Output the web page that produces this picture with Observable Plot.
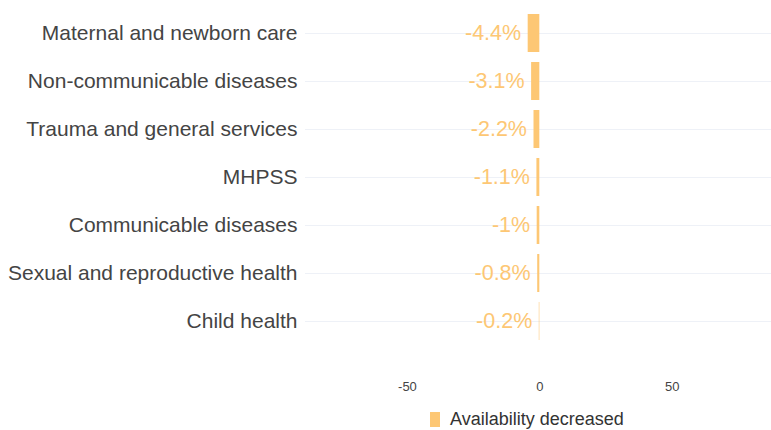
<!DOCTYPE html>
<html>
<head>
<meta charset="utf-8">
<script src="https://cdn.jsdelivr.net/npm/d3@7"></script>
<script src="https://cdn.jsdelivr.net/npm/@observablehq/plot@0.6"></script>
<style>
  html, body { margin: 0; padding: 0; background: #fff; }
  body { width: 771px; height: 430px; overflow: hidden; font-family: "Liberation Sans", Arial, sans-serif; }
  #legend { display: flex; align-items: center; margin-left: 430px; margin-top: 9px; font-size: 18px; line-height: 20px; color: #333; }
  #legend .sw { width: 10px; height: 15px; background: #fdc774; margin-right: 10px; }
</style>
</head>
<body>
<div id="chart"></div>
<div id="legend"><span class="sw"></span><span>Availability decreased</span></div>
<script>
const categories = [
  "Maternal and newborn care",
  "Non-communicable diseases",
  "Trauma and general services",
  "MHPSS",
  "Communicable diseases",
  "Sexual and reproductive health",
  "Child health"
];
const values = [-4.4, -3.1, -2.2, -1.1, -1, -0.8, -0.2];
const xTicks = [-50, 0, 50];
const seriesName = "Availability decreased";

const data = categories.map((c, i) => ({category: c, value: values[i]}));
const barColor = "#fdc774";

const chart = Plot.plot({
  width: 771,
  height: 400,
  marginLeft: 305,
  marginRight: 0,
  marginTop: 3,
  marginBottom: 48,
  style: {fontFamily: "Liberation Sans, Arial, sans-serif", background: "#fff"},
  x: {domain: [-88.5, 87.5], ticks: xTicks},
  y: {domain: categories, padding: 0.2},
  marks: [
    Plot.gridY({stroke: "#eef1f7", strokeOpacity: 1, strokeWidth: 1.2}),
    Plot.barX(data, {y: "category", x: "value", fill: barColor}),
    Plot.text(data, {y: "category", x: "value", text: d => `${d.value}%`, textAnchor: "end", dx: -7, fill: barColor, fontSize: 21.5}),
    Plot.axisY({tickSize: 0, tickPadding: 8, fontSize: 21, color: "#444", label: null}),
    Plot.axisX({ticks: xTicks, tickSize: 0, tickPadding: 29, fontSize: 13, color: "#444", label: null, tickFormat: d => String(d)})
  ]
});
document.getElementById("chart").appendChild(chart);
</script>
</body>
</html>
